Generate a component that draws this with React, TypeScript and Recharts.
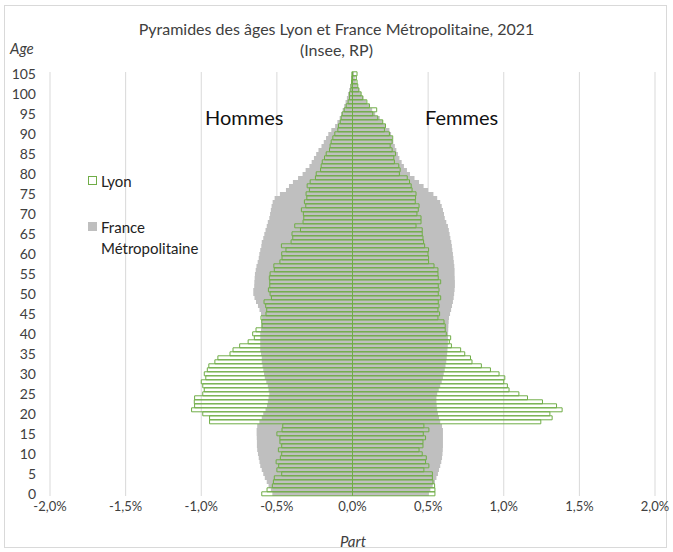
import React from 'react';
import { BarChart, Bar, XAxis, YAxis, CartesianGrid } from 'recharts';

// Ages 0..105
const ages: number[] = Array.from({ length: 106 }, (_, i) => i);

const xTicks = [-2, -1.5, -1, -0.5, 0, 0.5, 1, 1.5, 2];

// Lyon, hommes (% of population)
const lyonMen = [
  0.60, 0.565, 0.53, 0.523, 0.517, 0.468, 0.50, 0.488, 0.505, 0.477,
  0.468, 0.49, 0.468, 0.48, 0.48, 0.50, 0.466, 0.461, 0.945, 0.945,
  0.99, 1.064, 1.044, 1.046, 1.044, 0.99, 0.98, 0.99, 1.0, 0.97,
  0.98, 0.96, 0.95, 0.91, 0.89, 0.81, 0.79, 0.746, 0.69, 0.649,
  0.66, 0.638, 0.598, 0.60, 0.605, 0.572, 0.567, 0.574, 0.585, 0.536,
  0.545, 0.556, 0.547, 0.547, 0.55, 0.545, 0.517, 0.52, 0.48, 0.466,
  0.468, 0.44, 0.47, 0.406, 0.395, 0.40, 0.344, 0.382, 0.327, 0.322,
  0.325, 0.338, 0.309, 0.318, 0.302, 0.307, 0.285, 0.30, 0.28, 0.245,
  0.24, 0.211, 0.207, 0.20, 0.185, 0.174, 0.152, 0.148, 0.141, 0.13,
  0.117, 0.097, 0.093, 0.081, 0.075, 0.068, 0.055, 0.042, 0.029, 0.02,
  0.02, 0.011, 0.01, 0.006, 0.005, 0.004,
];

// Lyon, femmes
const lyonWomen = [
  0.545, 0.545, 0.543, 0.532, 0.528, 0.528, 0.472, 0.505, 0.483, 0.488,
  0.461, 0.44, 0.466, 0.466, 0.483, 0.468, 0.505, 0.472, 1.245, 1.32,
  1.305, 1.386, 1.349, 1.256, 1.157, 1.10, 1.035, 1.024, 1.0, 1.007,
  0.969, 0.912, 0.852, 0.79, 0.78, 0.742, 0.715, 0.654, 0.64, 0.649,
  0.62, 0.613, 0.613, 0.605, 0.565, 0.576, 0.565, 0.572, 0.567, 0.583,
  0.567, 0.572, 0.567, 0.583, 0.567, 0.565, 0.565, 0.539, 0.503, 0.503,
  0.499, 0.503, 0.477, 0.47, 0.466, 0.461, 0.461, 0.42, 0.453, 0.453,
  0.426, 0.435, 0.44, 0.415, 0.417, 0.42, 0.394, 0.388, 0.377, 0.362,
  0.31, 0.315, 0.306, 0.277, 0.273, 0.284, 0.262, 0.249, 0.262, 0.266,
  0.244, 0.211, 0.218, 0.2, 0.167, 0.134, 0.16, 0.112, 0.095, 0.068,
  0.057, 0.042, 0.035, 0.03, 0.025, 0.03,
];

// France métropolitaine, hommes
const franceMen = [
  0.53, 0.54, 0.555, 0.567, 0.58, 0.59, 0.60, 0.61, 0.615, 0.62,
  0.625, 0.63, 0.632, 0.632, 0.633, 0.634, 0.634, 0.63, 0.616, 0.60,
  0.59, 0.575, 0.565, 0.56, 0.555, 0.55, 0.555, 0.56, 0.57, 0.58,
  0.585, 0.59, 0.595, 0.60, 0.60, 0.605, 0.61, 0.61, 0.61, 0.61,
  0.61, 0.605, 0.603, 0.60, 0.598, 0.605, 0.615, 0.625, 0.638, 0.648,
  0.656, 0.656, 0.65, 0.649, 0.647, 0.645, 0.64, 0.635, 0.627, 0.62,
  0.616, 0.61, 0.603, 0.60, 0.59, 0.583, 0.575, 0.567, 0.56, 0.55,
  0.545, 0.54, 0.535, 0.528, 0.515, 0.48, 0.44, 0.42, 0.394, 0.36,
  0.33, 0.31, 0.285, 0.27, 0.255, 0.24, 0.225, 0.205, 0.19, 0.175,
  0.16, 0.14, 0.115, 0.10, 0.085, 0.075, 0.065, 0.055, 0.046, 0.037,
  0.03, 0.022, 0.015, 0.01, 0.006, 0.004,
];

// France métropolitaine, femmes
const franceWomen = [
  0.505, 0.515, 0.53, 0.545, 0.555, 0.565, 0.572, 0.58, 0.587, 0.592,
  0.595, 0.597, 0.598, 0.598, 0.598, 0.598, 0.598, 0.592, 0.58, 0.572,
  0.565, 0.56, 0.557, 0.555, 0.555, 0.56, 0.57, 0.58, 0.59, 0.598,
  0.603, 0.61, 0.615, 0.62, 0.623, 0.626, 0.628, 0.63, 0.631, 0.631,
  0.632, 0.633, 0.634, 0.636, 0.638, 0.645, 0.652, 0.658, 0.664, 0.669,
  0.672, 0.675, 0.677, 0.677, 0.676, 0.675, 0.675, 0.673, 0.67, 0.667,
  0.664, 0.66, 0.657, 0.653, 0.647, 0.642, 0.637, 0.631, 0.62, 0.61,
  0.605, 0.598, 0.59, 0.58, 0.56, 0.535, 0.50, 0.47, 0.44, 0.41,
  0.38, 0.36, 0.34, 0.325, 0.31, 0.30, 0.29, 0.28, 0.27, 0.262,
  0.255, 0.244, 0.22, 0.20, 0.18, 0.15, 0.13, 0.11, 0.09, 0.072,
  0.057, 0.045, 0.032, 0.022, 0.015, 0.01,
];

const data = ages.map((age, i) => ({
  age,
  frM: -franceMen[i],
  frF: franceWomen[i],
  lyM: -lyonMen[i],
  lyF: lyonWomen[i],
}));

const FONT = 'Lato, "Open Sans", sans-serif';

const fmt = (v: number) => v.toFixed(1).replace('.', ',') + '%';

const abs = (left: number, top: number, extra: React.CSSProperties = {}): React.CSSProperties => ({
  position: 'absolute',
  left,
  top,
  fontFamily: FONT,
  whiteSpace: 'nowrap',
  ...extra,
});

export default function App() {
  return (
    <div
      style={{
        position: 'absolute',
        left: 0,
        top: 0,
        width: 673,
        height: 552,
        background: '#fff',
        overflow: 'hidden',
      }}
    >
      <div
        style={{
          position: 'absolute',
          left: 4,
          top: 5,
          width: 663,
          height: 543,
          border: '1px solid #d9d9d9',
          boxSizing: 'border-box',
        }}
      />
      <BarChart
        width={673}
        height={552}
        data={data}
        layout="vertical"
        margin={{ top: 72, right: 18, bottom: 26, left: 20 }}
        stackOffset="sign"
        barSize={4}
        barGap={-4.2}
        barCategoryGap={0}
        style={{ position: 'absolute', left: 0, top: 0 }}
      >
        <CartesianGrid vertical horizontal={false} stroke="#d9d9d9" />
        <XAxis
          type="number"
          domain={[-2, 2]}
          ticks={xTicks}
          tickFormatter={fmt}
          axisLine={false}
          tickLine={false}
          tickSize={0}
          tickMargin={6}
          height={30}
          interval={0}
          tick={{ fontSize: 13, fill: '#404040', fontFamily: FONT }}
        />
        <YAxis
          type="category"
          dataKey="age"
          reversed
          width={30}
          interval={4}
          axisLine={false}
          tickLine={false}
          tickSize={0}
          tickMargin={14}
          tick={{ fontSize: 14, fill: '#404040', fontFamily: FONT }}
        />
        <Bar dataKey="frM" stackId="fr" fill="#bfbfbf" isAnimationActive={false} />
        <Bar dataKey="frF" stackId="fr" fill="#bfbfbf" isAnimationActive={false} />
        <Bar dataKey="lyM" stackId="ly" fill="none" stroke="#70ad47" strokeWidth={1} isAnimationActive={false} />
        <Bar dataKey="lyF" stackId="ly" fill="none" stroke="#70ad47" strokeWidth={1} isAnimationActive={false} />
      </BarChart>

      <div style={abs(0, 18, { width: 673, textAlign: 'center', fontSize: 16, lineHeight: '21px', color: '#404040' })}>
        Pyramides des âges Lyon et France Métropolitaine, 2021
        <br />
        (Insee, RP)
      </div>
      <div style={abs(10, 38, { fontSize: 15, lineHeight: '20px', fontStyle: 'italic', color: '#404040' })}>Age</div>
      <div style={abs(0, 531, { width: 706, textAlign: 'center', fontSize: 15, lineHeight: '20px', fontStyle: 'italic', color: '#404040' })}>Part</div>
      <div style={abs(205, 104, { fontSize: 20, lineHeight: '26px', color: '#111' })}>Hommes</div>
      <div style={abs(425, 104, { fontSize: 20, lineHeight: '26px', color: '#111' })}>Femmes</div>

      <div style={abs(88, 176, { width: 9, height: 9, border: '1px solid #70ad47', boxSizing: 'border-box' })} />
      <div style={abs(101, 171, { fontSize: 15, lineHeight: '20px', color: '#222' })}>Lyon</div>
      <div style={abs(88, 222, { width: 9, height: 9, background: '#bfbfbf' })} />
      <div style={abs(101, 217, { fontSize: 15, lineHeight: '21px', color: '#222' })}>
        France
        <br />
        Métropolitaine
      </div>
    </div>
  );
}
